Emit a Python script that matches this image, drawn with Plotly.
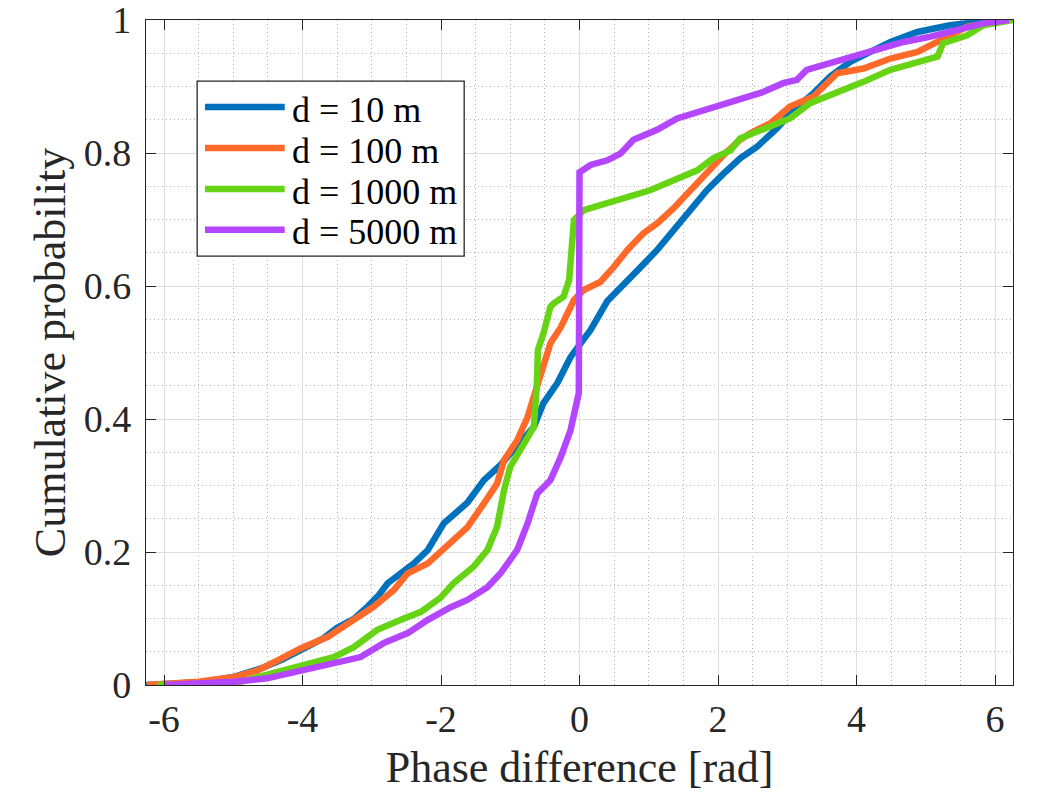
import plotly.graph_objects as go

# CDF points, x in rad, y cumulative probability
x_10 = [-6.26, -5.5, -5.0, -4.6, -4.3, -4.03, -3.7, -3.5, -3.25, -3.06, -2.9, -2.77, -2.58, -2.39,
        -2.19, -1.96, -1.62, -1.38, -1.14, -0.90, -0.66, -0.52, -0.32, -0.13, 0.01, 0.16, 0.40,
        0.64, 0.88, 1.12, 1.36, 1.60, 1.84, 2.08, 2.32, 2.56, 2.85, 3.09, 3.38, 3.62, 3.91, 4.20,
        4.49, 4.88, 5.35, 5.83, 6.2]
y_10 = [0.0, 0.004, 0.012, 0.025, 0.038, 0.053, 0.07, 0.086, 0.1, 0.118, 0.135, 0.153, 0.168, 0.183,
        0.203, 0.243, 0.274, 0.308, 0.331, 0.358, 0.388, 0.424, 0.454, 0.493, 0.514, 0.534, 0.577,
        0.604, 0.628, 0.654, 0.684, 0.714, 0.744, 0.769, 0.792, 0.809, 0.837, 0.865, 0.890, 0.915, 0.937, 0.952,
        0.967, 0.982, 0.992, 0.998, 1.0]

x_100 = [-6.25, -5.5, -4.99, -4.65, -4.36, -4.03, -3.64, -3.30, -2.97, -2.68, -2.48, -2.19, -1.96,
         -1.62, -1.38, -1.19, -1.09, -0.90, -0.75, -0.66, -0.52, -0.42, -0.27, -0.08, 0.06, 0.30,
         0.49, 0.69, 0.92, 1.12, 1.36, 1.60, 1.84, 2.08, 2.32, 2.47, 2.76, 3.04, 3.38, 3.72, 4.10,
         4.49, 4.88, 5.21, 5.60, 6.2]
y_100 = [0.0, 0.005, 0.012, 0.022, 0.037, 0.055, 0.072, 0.095, 0.118, 0.143, 0.168, 0.183, 0.206,
         0.237, 0.273, 0.303, 0.338, 0.368, 0.403, 0.433, 0.478, 0.514, 0.538, 0.579, 0.594, 0.606,
         0.628, 0.654, 0.679, 0.694, 0.717, 0.744, 0.770, 0.797, 0.820, 0.830, 0.845, 0.870, 0.885, 0.920, 0.927,
         0.942, 0.952, 0.970, 0.990, 1.0]

x_1000 = [-6.1, -5.47, -4.89, -4.51, -4.03, -3.55, -3.26, -2.92, -2.58, -2.29, -2.01, -1.82, -1.53,
          -1.33, -1.19, -1.09, -1.0, -0.81, -0.66, -0.62, -0.60, -0.52, -0.42, -0.37, -0.23, -0.15,
          -0.11, -0.08, 0.06, 0.40, 0.69, 1.02, 1.36, 1.70, 1.93, 2.18, 2.32, 2.66, 3.04, 3.33, 3.72,
          4.10, 4.49, 4.88, 5.17, 5.25, 5.60, 5.83, 6.26]
y_1000 = [0.0, 0.0, 0.005, 0.015, 0.030, 0.042, 0.057, 0.083, 0.098, 0.110, 0.131, 0.153, 0.178,
          0.203, 0.238, 0.293, 0.328, 0.363, 0.388, 0.443, 0.504, 0.529, 0.569, 0.574, 0.584, 0.609,
          0.65, 0.699, 0.714, 0.724, 0.732, 0.744, 0.759, 0.774, 0.792, 0.804, 0.822, 0.835, 0.852, 0.875, 0.890,
          0.907, 0.925, 0.937, 0.945, 0.965, 0.977, 0.992, 1.0]

x_5000 = [-6.0, -4.99, -4.51, -4.03, -3.55, -3.16, -2.83, -2.48, -2.19, -1.86, -1.62, -1.33, -1.14,
          -0.90, -0.75, -0.61, -0.42, -0.27, -0.13, -0.01, 0.0, 0.16, 0.40, 0.59, 0.78, 1.12, 1.41,
          1.89, 2.28, 2.66, 2.94, 3.14, 3.28, 3.62, 3.91, 4.30, 4.68, 5.07, 5.45, 5.83, 6.2]
y_5000 = [0.0, 0.005, 0.010, 0.022, 0.033, 0.042, 0.063, 0.078, 0.098, 0.117, 0.128, 0.147, 0.168,
          0.203, 0.243, 0.288, 0.308, 0.343, 0.383, 0.439, 0.771, 0.782, 0.789, 0.799, 0.820, 0.835, 0.852,
          0.867, 0.880, 0.892, 0.905, 0.910, 0.925, 0.935, 0.945, 0.955, 0.967, 0.975, 0.985, 0.995, 1.0]

x_ticks = [-6, -4, -2, 0, 2, 4, 6]
x_ticktext = ['-6', '-4', '-2', '0', '2', '4', '6']
y_ticks = [0, 0.2, 0.4, 0.6, 0.8, 1]
y_ticktext = ['0', '0.2', '0.4', '0.6', '0.8', '1']

series = [
    ('d = 10 m', x_10, y_10, '#0072BD'),
    ('d = 100 m', x_100, y_100, '#FF6A2B'),
    ('d = 1000 m', x_1000, y_1000, '#66D414'),
    ('d = 5000 m', x_5000, y_5000, '#B446FF'),
]

font_family = 'Liberation Serif, Times New Roman, serif'
line_w = 6.5

fig = go.Figure()

for name, xs, ys, color in series:
    fig.add_trace(go.Scatter(
        x=xs,
        y=ys,
        name=name,
        mode='lines',
        line=dict(color=color, width=line_w),
        showlegend=False,
        hovertemplate=name + '<br>%{x:.2f} rad<br>%{y:.3f}<extra></extra>'
    ))

# legend drawn by hand (MATLAB style: long line samples, tight rows)
box_x0, box_x1 = 0.059, 0.367
box_y0, box_y1 = 0.645, 0.908
row_top, row_step = 0.869, 0.0615
shapes = [dict(type='rect', xref='paper', yref='paper', x0=box_x0, x1=box_x1, y0=box_y0, y1=box_y1,
               line=dict(color='#262626', width=1.3), fillcolor='white', layer='above')]
annotations = []
for i, (name, xs, ys, color) in enumerate(series):
    yy = row_top - i * row_step
    shapes.append(dict(type='line', xref='paper', yref='paper', x0=0.068, x1=0.160, y0=yy, y1=yy,
                       line=dict(color=color, width=line_w), layer='above'))
    annotations.append(dict(text=name, xref='paper', yref='paper', x=0.166, y=yy - 0.004,
                            xanchor='left', yanchor='middle', showarrow=False,
                            font=dict(family=font_family, size=36, color='black')))

axis_common = dict(
    showline=True,
    linecolor='#262626',
    linewidth=1.3,
    mirror='ticks',
    ticks='inside',
    ticklen=10,
    tickcolor='#262626',
    showgrid=True,
    gridcolor='#DEDEDE',
    gridwidth=1,
    zeroline=False,
    automargin=False,
    ticklabeloverflow='allow',
    tickfont=dict(family=font_family, size=38, color='#262626'),
)

fig.update_layout(
    width=1064,
    height=798,
    margin=dict(l=146, r=51, t=20, b=113),
    paper_bgcolor='white',
    plot_bgcolor='white',
    font=dict(family=font_family, color='#262626'),
    xaxis=dict(
        range=[-6.26, 6.26],
        tickvals=x_ticks,
        ticktext=x_ticktext,
        minor=dict(dtick=0.5, showgrid=True, gridcolor='#B4B4B4', griddash='1px,3px', ticks=''),
        title=dict(text='Phase difference [rad]', font=dict(size=44, family=font_family), standoff=12),
        **axis_common
    ),
    yaxis=dict(
        range=[0, 1],
        tickvals=y_ticks,
        ticktext=y_ticktext,
        minor=dict(dtick=0.05, showgrid=True, gridcolor='#B4B4B4', griddash='1px,3px', ticks=''),
        title=dict(text='Cumulative probability', font=dict(size=44, family=font_family), standoff=4),
        ticklabelstandoff=6,
        **axis_common
    ),
    shapes=shapes,
    annotations=annotations,
    showlegend=False,
)

fig.write_html('out.html', config={'displayModeBar': False},
               post_script="document.body.style.margin='0px';")
